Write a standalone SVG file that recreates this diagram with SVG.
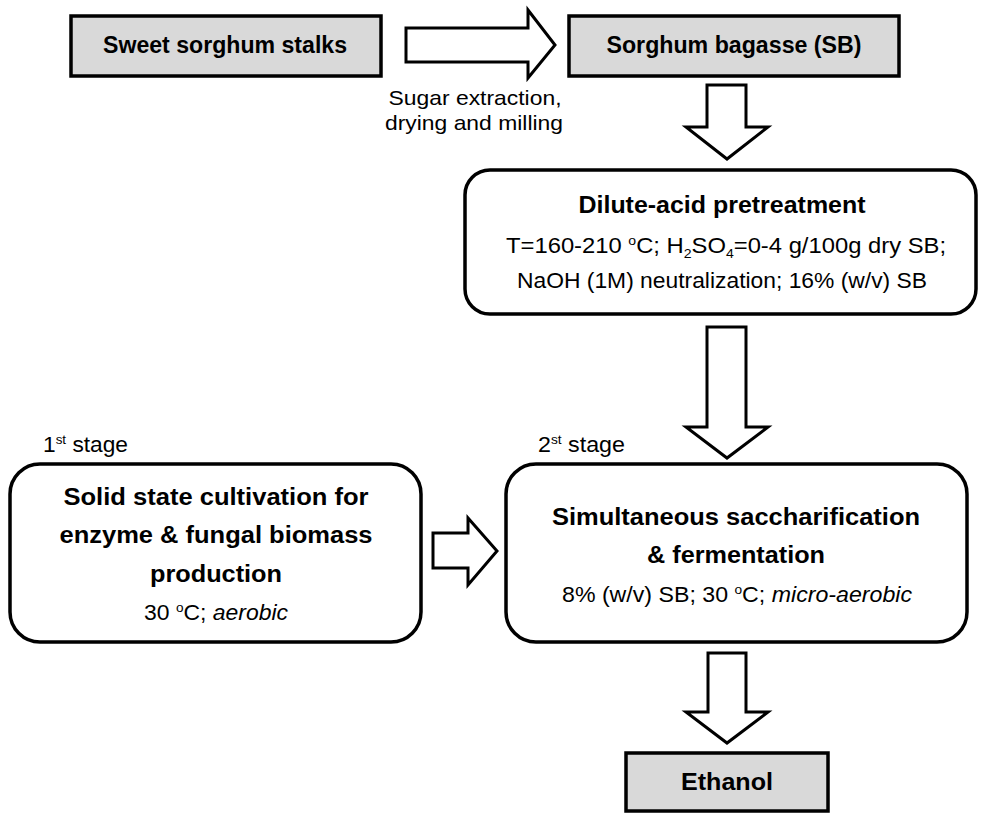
<svg xmlns="http://www.w3.org/2000/svg" width="981" height="813" viewBox="0 0 981 813">
<style>
  text { font-family: "Liberation Sans", Arial, sans-serif; fill: #000; }
  .b { font-weight: bold; }
  .t { font-size: 23px; text-anchor: middle; }
  .r { font-size: 22px; text-anchor: middle; }
  .s { font-size: 21px; text-anchor: middle; }
  .sup { font-size: 13px; }
  .gray { fill: #d9d9d9; stroke: #000; stroke-width: 3.5; }
  .rnd { fill: #fff; stroke: #000; stroke-width: 3.5; }
  .arrow { fill: #fff; stroke: #000; stroke-width: 3; stroke-linejoin: miter; }
</style>
<rect width="981" height="813" fill="#fff"/>

<g id="connectors">
  <polygon class="arrow" points="406,28 528,28 528,10 555,45 528,78 528,62 406,62"/>
  <polygon class="arrow" points="707,85 746,85 746,127 768,127 727,159 686,127 707,127"/>
  <polygon class="arrow" points="707,327 746,327 746,427 768,427 727,458 686,427 707,427"/>
  <polygon class="arrow" points="433,533 468,533 468,518 497,551 468,585 468,568 433,568"/>
  <polygon class="arrow" points="708,653 746,653 746,712 768,712 727,743 686,712 708,712"/>
  <text class="s" x="475" y="105" textLength="173" lengthAdjust="spacingAndGlyphs">Sugar extraction,</text>
  <text class="s" x="474" y="130" textLength="178" lengthAdjust="spacingAndGlyphs">drying and milling</text>
</g>

<g id="stalks">
  <rect class="gray" x="71" y="16" width="310" height="60"/>
  <text class="t b" x="225" y="53" textLength="244" lengthAdjust="spacingAndGlyphs">Sweet sorghum stalks</text>
</g>

<g id="bagasse">
  <rect class="gray" x="569" y="16" width="330" height="60"/>
  <text class="t b" x="734" y="53" textLength="255" lengthAdjust="spacingAndGlyphs">Sorghum bagasse (SB)</text>
</g>

<g id="pretreatment">
  <rect class="rnd" x="465" y="170" width="511" height="144" rx="25" ry="25"/>
  <text class="t b" x="722" y="213" font-size="24" textLength="287" lengthAdjust="spacingAndGlyphs">Dilute-acid pretreatment</text>
  <text class="r" x="726" y="253" textLength="440" lengthAdjust="spacingAndGlyphs">T=160-210 <tspan class="sup" dy="-8">o</tspan><tspan dy="8">C; H</tspan><tspan class="sup" dy="5">2</tspan><tspan dy="-5">SO</tspan><tspan class="sup" dy="5">4</tspan><tspan dy="-5">=0-4  g/100g dry SB;</tspan></text>
  <text class="r" x="722" y="288" textLength="410" lengthAdjust="spacingAndGlyphs">NaOH (1M) neutralization; 16% (w/v) SB</text>
</g>

<g id="stage1">
  <text x="43" y="452" font-size="22" textLength="85" lengthAdjust="spacingAndGlyphs">1<tspan class="sup" dy="-8">st</tspan><tspan dy="8"> stage</tspan></text>
  <rect class="rnd" x="10" y="464" width="411" height="178" rx="30" ry="30"/>
  <text class="t b" x="216" y="505" font-size="24" textLength="305" lengthAdjust="spacingAndGlyphs">Solid state cultivation for</text>
  <text class="t b" x="216" y="543" font-size="24" textLength="313" lengthAdjust="spacingAndGlyphs">enzyme &amp; fungal biomass</text>
  <text class="t b" x="216" y="582" font-size="24" textLength="132" lengthAdjust="spacingAndGlyphs">production</text>
  <text class="r" x="216" y="620" textLength="144" lengthAdjust="spacingAndGlyphs">30 <tspan class="sup" dy="-8">o</tspan><tspan dy="8">C; </tspan><tspan font-style="italic">aerobic</tspan></text>
</g>

<g id="stage2">
  <text x="538" y="452" font-size="22" textLength="87" lengthAdjust="spacingAndGlyphs">2<tspan class="sup" dy="-8">st</tspan><tspan dy="8"> stage</tspan></text>
  <rect class="rnd" x="506" y="464" width="461" height="178" rx="30" ry="30"/>
  <text class="t b" x="736" y="525" font-size="24" textLength="368" lengthAdjust="spacingAndGlyphs">Simultaneous saccharification</text>
  <text class="t b" x="736" y="563" font-size="24" textLength="178" lengthAdjust="spacingAndGlyphs">&amp; fermentation</text>
  <text class="r" x="737" y="602" textLength="350" lengthAdjust="spacingAndGlyphs">8% (w/v) SB; 30 <tspan class="sup" dy="-8">o</tspan><tspan dy="8">C; </tspan><tspan font-style="italic">micro-aerobic</tspan></text>
</g>

<g id="ethanol">
  <rect class="gray" x="626" y="753" width="202" height="58"/>
  <text class="t b" x="727" y="790" font-size="24" textLength="92" lengthAdjust="spacingAndGlyphs">Ethanol</text>
</g>
</svg>
